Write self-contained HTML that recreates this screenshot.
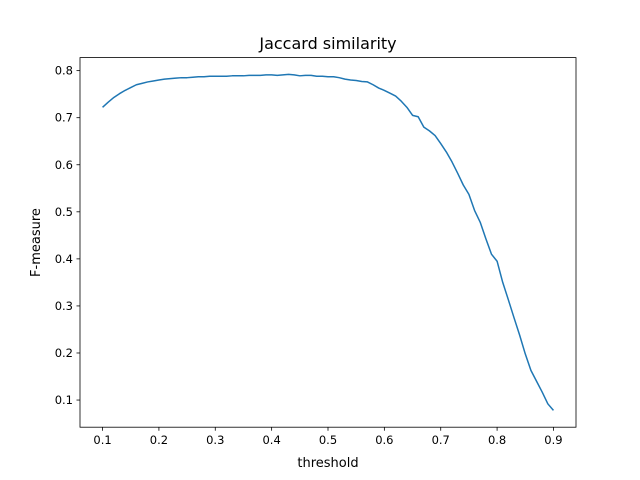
<!DOCTYPE html>
<html><head><meta charset="utf-8"><style>
html,body{margin:0;padding:0;background:#fff;}
svg{display:block;font-family:"DejaVu Sans","Liberation Sans",sans-serif;}
</style></head><body>
<svg id="chart" width="640" height="480" viewBox="0 0 640 480" xmlns="http://www.w3.org/2000/svg">
<rect x="0" y="0" width="640" height="480" fill="#fff"/>
<text x="328" y="49" font-size="16" text-anchor="middle" fill="#000">Jaccard similarity</text>
<text x="328" y="467" font-size="13" text-anchor="middle" fill="#000">threshold</text>
<text transform="translate(40,242.5) rotate(-90)" font-size="13" text-anchor="middle" fill="#000">F-measure</text>
<g id="xticks"></g>
<g id="yticks"></g>
<path id="line" fill="none" stroke="#1f77b4" stroke-width="1.5" stroke-linejoin="round"/>
<rect x="80" y="57.6" width="496" height="369.6" fill="none" stroke="#000" stroke-width="0.8"/>
</svg>
<script>
const thresholds = [];
for (let i = 10; i <= 90; i++) thresholds.push(i / 100);
const fMeasure = [0.722,0.733,0.743,0.751,0.758,0.764,0.770,0.773,0.776,0.778,0.780,0.782,0.783,0.784,0.785,0.785,0.786,0.787,0.787,0.788,0.788,0.788,0.788,0.789,0.789,0.789,0.790,0.790,0.790,0.791,0.791,0.790,0.791,0.792,0.791,0.789,0.790,0.790,0.788,0.788,0.787,0.787,0.785,0.782,0.780,0.779,0.777,0.776,0.770,0.763,0.758,0.752,0.746,0.735,0.722,0.705,0.702,0.680,0.672,0.662,0.645,0.627,0.606,0.582,0.557,0.537,0.503,0.478,0.443,0.410,0.395,0.350,0.313,0.275,0.238,0.198,0.163,0.140,0.117,0.092,0.078];
const xTicks = [0.1,0.2,0.3,0.4,0.5,0.6,0.7,0.8,0.9];
const xTickLabels = ["0.1","0.2","0.3","0.4","0.5","0.6","0.7","0.8","0.9"];
const yTicks = [0.1,0.2,0.3,0.4,0.5,0.6,0.7,0.8];
const yTickLabels = ["0.1","0.2","0.3","0.4","0.5","0.6","0.7","0.8"];

const L=80,R=576,T=57.6,B=427.2;
const xmin=Math.min(...thresholds),xmax=Math.max(...thresholds);
const ymin=Math.min(...fMeasure),ymax=Math.max(...fMeasure);
const xlo=xmin-(xmax-xmin)*0.05,xhi=xmax+(xmax-xmin)*0.05;
const ylo=ymin-(ymax-ymin)*0.05,yhi=ymax+(ymax-ymin)*0.05;
function xs(v){return L+(v-xlo)/(xhi-xlo)*(R-L);}
function ys(v){return B-(v-ylo)/(yhi-ylo)*(B-T);}
const NS="http://www.w3.org/2000/svg";
const xg=document.getElementById('xticks'),yg=document.getElementById('yticks');
xTicks.forEach((t,i)=>{
  const x=xs(t);
  const ln=document.createElementNS(NS,'line');
  ln.setAttribute('x1',x);ln.setAttribute('x2',x);ln.setAttribute('y1',B);ln.setAttribute('y2',B+3.5);
  ln.setAttribute('stroke','#000');ln.setAttribute('stroke-width','0.8');
  
  
  xg.appendChild(ln);
  const tx=document.createElementNS(NS,'text');
  tx.setAttribute('x',x);tx.setAttribute('y',B+17);tx.setAttribute('font-size','11.5');tx.setAttribute('text-anchor','middle');
  tx.textContent=xTickLabels[i];
  
  
  xg.appendChild(tx);
});
yTicks.forEach((t,i)=>{
  const y=ys(t);
  const ln=document.createElementNS(NS,'line');
  ln.setAttribute('x1',L-3.5);ln.setAttribute('x2',L);ln.setAttribute('y1',y);ln.setAttribute('y2',y);
  ln.setAttribute('stroke','#000');ln.setAttribute('stroke-width','0.8');
  
  
  yg.appendChild(ln);
  const tx=document.createElementNS(NS,'text');
  tx.setAttribute('x',L-7);tx.setAttribute('y',y+4);tx.setAttribute('font-size','11.5');tx.setAttribute('text-anchor','end');
  tx.textContent=yTickLabels[i];
  
  
  yg.appendChild(tx);
});
let d='';
thresholds.forEach((t,i)=>{d+=(i?'L':'M')+xs(t).toFixed(2)+' '+ys(fMeasure[i]).toFixed(2);});
document.getElementById('line').setAttribute('d',d);
</script>
</body></html>
